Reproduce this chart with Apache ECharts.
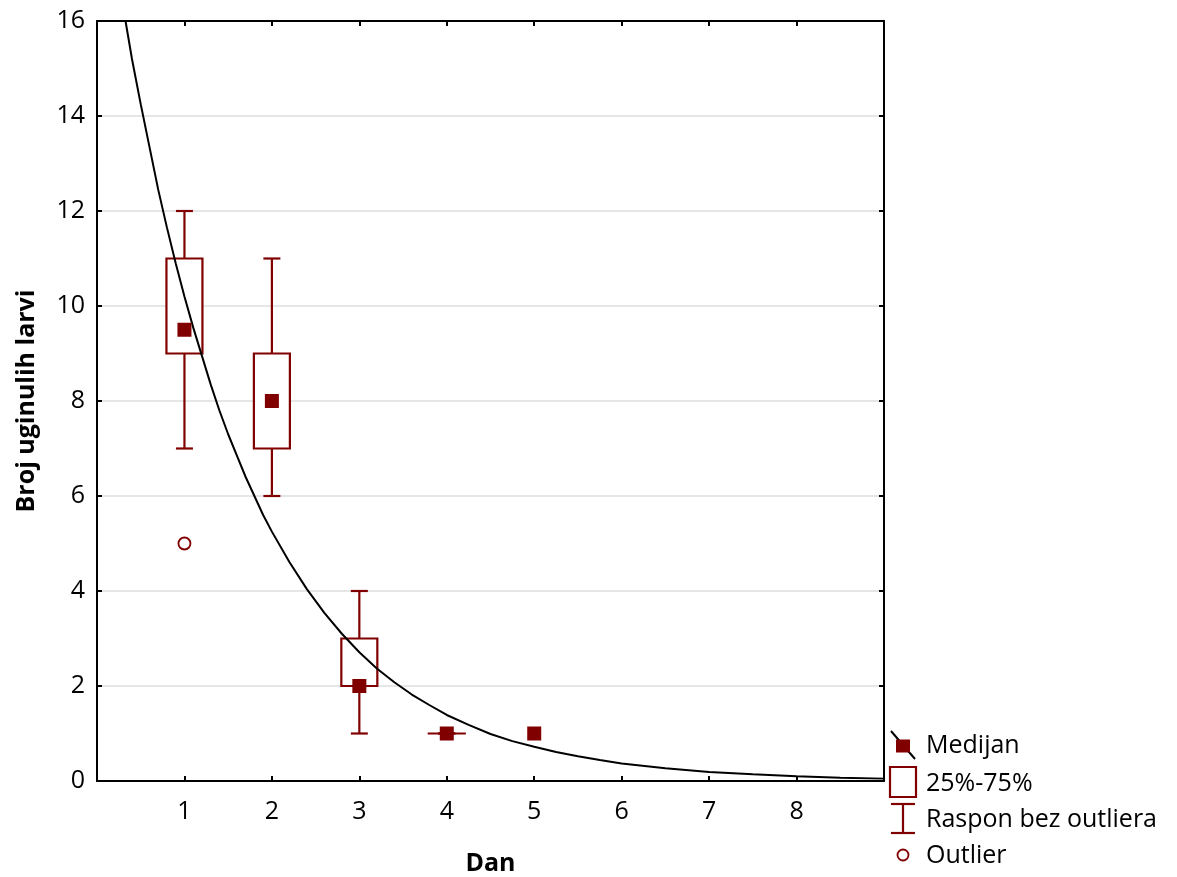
<!DOCTYPE html>
<html>
<head>
<meta charset="utf-8">
<script src="https://cdn.jsdelivr.net/npm/echarts@6/dist/echarts.min.js"></script>
<style>
html,body{margin:0;padding:0;background:#fff;}
#chart{width:1177px;height:877px;}
</style>
</head>
<body>
<div id="chart"></div>
<script>
// ---- data ----
const boxDays     = [1, 2, 3, 4];
const whiskerLow  = [7, 6, 1, 1];
const quart1      = [9, 7, 2, 1];
const quart3      = [11, 9, 3, 1];
const whiskerHigh = [12, 11, 4, 1];

const medianDays  = [1, 2, 3, 4, 5];
const medians     = [9.5, 8, 2, 1, 1];

const outlierDays = [1];
const outliers    = [5];

// fitted curve, points
const curveX = [0.326, 0.4, 0.5, 0.6, 0.7, 0.8, 0.9, 1.0, 1.1, 1.2, 1.3, 1.4, 1.5, 1.6, 1.7, 1.8, 1.9, 2.0, 2.2, 2.4, 2.6, 2.8, 3.0, 3.2, 3.4, 3.6, 3.8, 4.0, 4.25, 4.5, 4.75, 5.0, 5.25, 5.5, 5.75, 6.0, 6.5, 7.0, 7.5, 8.0, 8.5, 9.0];
const curveY = [16, 15.2, 14.25, 13.35, 12.45, 11.65, 10.9, 10.2, 9.55, 8.95, 8.35, 7.8, 7.3, 6.85, 6.4, 6.0, 5.6, 5.25, 4.61, 4.04, 3.54, 3.1, 2.71, 2.37, 2.08, 1.82, 1.6, 1.39, 1.18, 0.99, 0.84, 0.72, 0.61, 0.52, 0.44, 0.37, 0.27, 0.19, 0.14, 0.10, 0.07, 0.05];

const xTickLabels = ['1','2','3','4','5','6','7','8'];
const yTickLabels = ['0','2','4','6','8','10','12','14','16'];

const legendLabels = ['Medijan', '25%-75%', 'Raspon bez outliera', 'Outlier'];

// ---- chart ----
const RED = '#800000';
const FONT = 'Open Sans';
const chart = echarts.init(document.getElementById('chart'), null, {renderer: 'canvas'});

const boxData = boxDays.map((d, i) => [d, whiskerLow[i], quart1[i], quart3[i], whiskerHigh[i]]);

function renderBox(params, api) {
  const x = api.value(0);
  const pLo = api.coord([x, api.value(1)]);
  const pQ1 = api.coord([x, api.value(2)]);
  const pQ3 = api.coord([x, api.value(3)]);
  const pHi = api.coord([x, api.value(4)]);
  const hb = 18, hc = 8.5;
  const st = {stroke: RED, lineWidth: 2.2, fill: null};
  return {
    type: 'group',
    children: [
      {type: 'line', shape: {x1: pQ1[0], y1: pQ1[1], x2: pLo[0], y2: pLo[1]}, style: st},
      {type: 'line', shape: {x1: pQ3[0], y1: pQ3[1], x2: pHi[0], y2: pHi[1]}, style: st},
      {type: 'line', shape: {x1: pLo[0]-hc, y1: pLo[1], x2: pLo[0]+hc, y2: pLo[1]}, style: st},
      {type: 'line', shape: {x1: pHi[0]-hc, y1: pHi[1], x2: pHi[0]+hc, y2: pHi[1]}, style: st},
      {type: 'rect', shape: {x: pQ3[0]-hb, y: pQ3[1], width: 2*hb, height: Math.max(pQ1[1]-pQ3[1], 0.01)}, style: {stroke: RED, lineWidth: 2.2, fill: '#fff'}}
    ]
  };
}

const labelStyle = {fontFamily: FONT, fontSize: 25, color: '#000'};
const LFONT = '25px "Open Sans"';

// legend drawn with graphic elements
const LX = 903;
const legendGraphic = {
  type: 'group',
  children: [
    {type: 'line', shape: {x1: LX-12, y1: 731, x2: LX+12, y2: 759}, style: {stroke: '#000', lineWidth: 2}},
    {type: 'rect', shape: {x: LX-7, y: 739.5, width: 14, height: 13}, style: {fill: RED}},
    {type: 'text', style: {x: 926, y: 746, text: legendLabels[0], font: LFONT, fill: '#000', verticalAlign: 'middle'}},
    {type: 'rect', shape: {x: LX-13, y: 767, width: 26, height: 30}, style: {stroke: RED, lineWidth: 2.2, fill: '#fff'}},
    {type: 'text', style: {x: 926, y: 784, text: legendLabels[1], font: LFONT, fill: '#000', verticalAlign: 'middle'}},
    {type: 'line', shape: {x1: LX-12, y1: 804, x2: LX+12, y2: 804}, style: {stroke: RED, lineWidth: 2.2}},
    {type: 'line', shape: {x1: LX, y1: 804, x2: LX, y2: 833}, style: {stroke: RED, lineWidth: 2.2}},
    {type: 'line', shape: {x1: LX-12, y1: 833, x2: LX+12, y2: 833}, style: {stroke: RED, lineWidth: 2.2}},
    {type: 'text', style: {x: 926, y: 820, text: legendLabels[2], font: LFONT, fill: '#000', verticalAlign: 'middle'}},
    {type: 'circle', shape: {cx: LX, cy: 855, r: 5.5}, style: {stroke: RED, lineWidth: 1.8, fill: '#fff'}},
    {type: 'text', style: {x: 926, y: 856, text: legendLabels[3], font: LFONT, fill: '#000', verticalAlign: 'middle'}}
  ]
};

const option = {
  animation: false,
  backgroundColor: '#fff',
  grid: {left: 97, right: 293, top: 21, bottom: 96, containLabel: false, outerBoundsMode: 'none'},
  xAxis: [{
    type: 'value', min: 0, max: 9, interval: 1, position: 'bottom',
    name: 'Dan', nameLocation: 'middle', nameGap: 70,
    nameTextStyle: {fontFamily: FONT, fontSize: 25, fontWeight: 'bold', color: '#000'},
    axisLine: {onZero: false, lineStyle: {color: '#000', width: 2}},
    axisTick: {inside: true, length: 5, lineStyle: {color: '#000', width: 2}},
    axisLabel: Object.assign({margin: 18, formatter: v => (v >= 1 && v <= 8) ? xTickLabels[v-1] : ''}, labelStyle),
    splitLine: {show: false}
  }, {
    type: 'value', min: 0, max: 9, interval: 1, position: 'top',
    axisLine: {onZero: false, lineStyle: {color: '#000', width: 2}},
    axisTick: {inside: true, length: 5, lineStyle: {color: '#000', width: 2}},
    axisLabel: {show: false},
    splitLine: {show: false}
  }],
  yAxis: [{
    type: 'value', min: 0, max: 16, interval: 2, position: 'left',
    name: 'Broj uginulih larvi', nameLocation: 'middle', nameGap: 58, nameRotate: 90,
    nameTextStyle: {fontFamily: FONT, fontSize: 25, fontWeight: 'bold', color: '#000'},
    axisLine: {onZero: false, lineStyle: {color: '#000', width: 2}},
    axisTick: {inside: true, length: 5, lineStyle: {color: '#000', width: 2}},
    axisLabel: Object.assign({margin: 12, formatter: v => yTickLabels[Math.round(v/2)]}, labelStyle),
    splitLine: {show: true, lineStyle: {color: '#dedede', width: 1.5}}
  }, {
    type: 'value', min: 0, max: 16, interval: 2, position: 'right',
    axisLine: {onZero: false, lineStyle: {color: '#000', width: 2}},
    axisTick: {inside: true, length: 5, lineStyle: {color: '#000', width: 2}},
    axisLabel: {show: false},
    splitLine: {show: false}
  }],
  graphic: [legendGraphic],
  series: [
    {
      name: '25%-75%', type: 'custom', xAxisIndex: 0, yAxisIndex: 0,
      renderItem: renderBox, data: boxData, encode: {x: 0, y: [1, 2, 3, 4]}, z: 2
    },
    {
      name: 'Outlier', type: 'scatter', xAxisIndex: 0, yAxisIndex: 0,
      data: outlierDays.map((d, i) => [d, outliers[i]]),
      symbol: 'circle', symbolSize: 12,
      itemStyle: {color: '#fff', borderColor: RED, borderWidth: 1.8, opacity: 1}, z: 3
    },
    {
      name: 'Fit', type: 'line', xAxisIndex: 0, yAxisIndex: 0,
      data: curveX.map((x, i) => [x, curveY[i]]),
      smooth: false, showSymbol: false, symbol: 'none',
      lineStyle: {color: '#000', width: 2}, z: 4, clip: true
    },
    {
      name: 'Medijan', type: 'scatter', xAxisIndex: 0, yAxisIndex: 0,
      data: medianDays.map((d, i) => [d, medians[i]]),
      symbol: 'rect', symbolSize: 14,
      itemStyle: {color: RED, opacity: 1}, z: 5
    }
  ]
};
chart.setOption(option);
</script>
</body>
</html>
